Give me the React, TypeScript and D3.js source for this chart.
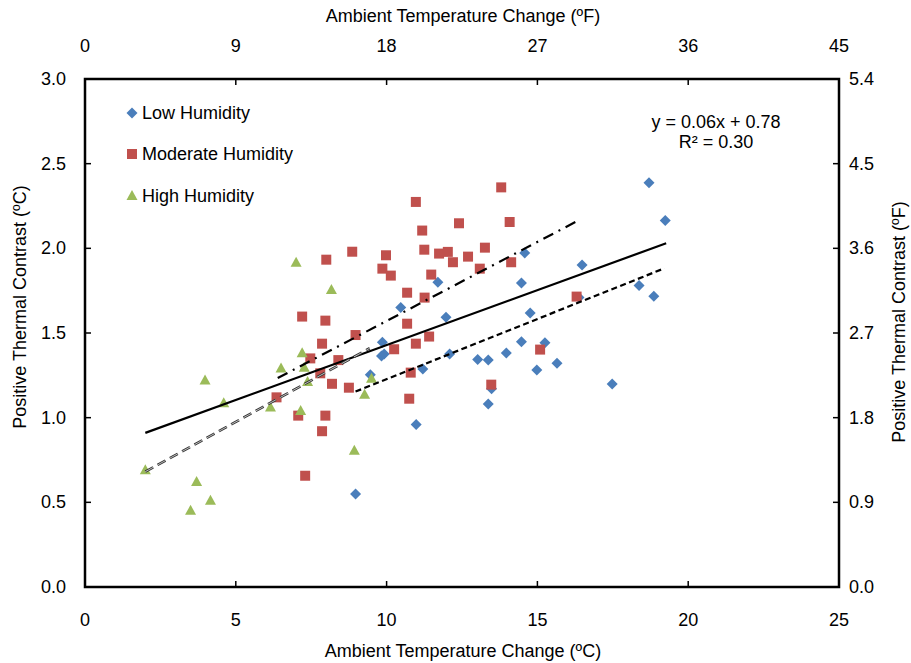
import React from "react";
import * as d3 from "d3";

// ---- Data (°C) ----
const lowHumidity: [number, number][] = [
  [18.7, 2.388], [19.24, 2.164], [14.58, 1.973], [16.48, 1.902], [11.7, 1.8],
  [14.47, 1.796], [18.37, 1.78], [18.86, 1.717], [10.47, 1.65], [14.76, 1.618],
  [11.97, 1.593], [9.86, 1.445], [14.47, 1.449], [15.25, 1.443], [9.83, 1.364],
  [9.92, 1.376], [12.09, 1.376], [13.97, 1.382], [13.02, 1.343], [13.37, 1.341],
  [15.65, 1.321], [14.98, 1.282], [11.2, 1.288], [9.46, 1.254], [17.48, 1.199],
  [13.48, 1.171], [13.37, 1.081], [10.98, 0.959], [8.97, 0.549], [16.38, 1.71],
];
const moderateHumidity: [number, number][] = [
  [8.0, 1.933], [8.86, 1.98], [7.2, 1.597], [7.97, 1.573], [7.86, 1.437],
  [8.97, 1.488], [7.47, 1.35], [8.4, 1.34], [7.8, 1.262], [8.19, 1.2],
  [8.75, 1.177], [6.35, 1.12], [7.07, 1.012], [7.97, 1.012], [7.86, 0.92],
  [7.3, 0.657], [13.8, 2.36], [10.97, 2.274], [12.4, 2.148], [14.08, 2.156],
  [11.18, 2.105], [9.98, 1.959], [11.25, 1.992], [11.74, 1.969], [12.03, 1.979],
  [12.2, 1.918], [12.7, 1.951], [13.26, 2.004], [9.86, 1.88], [10.14, 1.839],
  [11.48, 1.845], [13.09, 1.88], [14.13, 1.918], [10.68, 1.738], [11.26, 1.709],
  [10.68, 1.555], [11.41, 1.479], [10.97, 1.437], [10.25, 1.404], [16.3, 1.715],
  [15.09, 1.402], [10.8, 1.266], [13.47, 1.195], [10.75, 1.112],
];
const highHumidity: [number, number][] = [
  [2.0, 0.69], [3.98, 1.22], [4.6, 1.085], [3.7, 0.62], [4.16, 0.51],
  [3.5, 0.45], [6.15, 1.06], [6.5, 1.29], [7.2, 1.38], [7.27, 1.295],
  [7.38, 1.21], [7.15, 1.04], [8.93, 0.805], [9.27, 1.136], [9.5, 1.23],
  [7.0, 1.915], [8.17, 1.754],
];

const overallTrend: [number, number][] = [[2.0, 0.91], [19.27, 2.03]];
const lowTrend: [number, number][] = [[8.97, 1.154], [19.21, 1.882]];
const moderateTrend: [number, number][] = [[6.39, 1.234], [16.33, 2.162]];
const highTrend: [number, number][] = [[2.0, 0.681], [9.44, 1.41]];

const xTicksC = [0, 5, 10, 15, 20, 25];
const xTicksF = [0, 9, 18, 27, 36, 45];
const yTicksC = [0, 0.5, 1.0, 1.5, 2.0, 2.5, 3.0];
const yTicksF = [0, 0.9, 1.8, 2.7, 3.6, 4.5, 5.4];

const legendLabels = ["Low Humidity", "Moderate Humidity", "High Humidity"];
const equationText = ["y = 0.06x + 0.78", "R\u00B2 = 0.30"];

const BLUE = "#4A7EBB";
const RED = "#C0504D";
const GREEN = "#9BBB59";
const FONT = "'Liberation Sans', Arial, sans-serif";

const W = 911, H = 663;
const L = 85, R = 839, T = 79, B = 587;

const x = d3.scaleLinear().domain([0, 25]).range([L, R]);
const xF = d3.scaleLinear().domain([0, 45]).range([L, R]);
const y = d3.scaleLinear().domain([0, 3]).range([B, T]);
const yF = d3.scaleLinear().domain([0, 5.4]).range([B, T]);

const line = d3.line<[number, number]>().x((d) => x(d[0])).y((d) => y(d[1]));

const diamond = (cx: number, cy: number, r = 5.5) =>
  `M${cx},${cy - r}L${cx + r},${cy}L${cx},${cy + r}L${cx - r},${cy}Z`;
const square = (cx: number, cy: number, s = 10) =>
  `M${cx - s / 2},${cy - s / 2}h${s}v${s}h${-s}Z`;
const triangle = (cx: number, cy: number, w = 11, h = 10) =>
  `M${cx},${cy - h / 2 - 1}L${cx + w / 2},${cy + h / 2 - 1}L${cx - w / 2},${cy + h / 2 - 1}Z`;

export default function App() {
  return (
    <svg
      width={W}
      height={H}
      style={{ position: "absolute", left: 0, top: 0, background: "#fff" }}
      fontFamily={FONT}
    >
      <rect x={0} y={0} width={W} height={H} fill="#fff" />

      {/* markers */}
      {lowHumidity.map((d, i) => (
        <path key={"l" + i} d={diamond(x(d[0]), y(d[1]))} fill={BLUE} />
      ))}
      {moderateHumidity.map((d, i) => (
        <path key={"m" + i} d={square(x(d[0]), y(d[1]))} fill={RED} />
      ))}
      {highHumidity.map((d, i) => (
        <path key={"h" + i} d={triangle(x(d[0]), y(d[1]))} fill={GREEN} />
      ))}

      {/* trend lines */}
      <path d={line(overallTrend) || ""} stroke="#000" strokeWidth={2.2} fill="none" />
      <path d={line(lowTrend) || ""} stroke="#000" strokeWidth={2.2} strokeDasharray="6 3.5" fill="none" />
      <path d={line(moderateTrend) || ""} stroke="#000" strokeWidth={2.2} strokeDasharray="11 6 2 6" fill="none" />
      <path d={line(highTrend) || ""} stroke="#333" strokeWidth={2.6} strokeDasharray="9 5" fill="none" />
      <path d={line(highTrend) || ""} stroke="#ccc" strokeWidth={0.9} strokeDasharray="9 5" fill="none" />

      {/* frame */}
      <rect x={L} y={T} width={R - L} height={B - T} fill="none" stroke="#000" strokeWidth={2.5} />

      {/* bottom / top ticks */}
      {xTicksC.slice(1, -1).map((t) => (
        <line key={"bt" + t} x1={x(t)} x2={x(t)} y1={B} y2={B - 6} stroke="#000" strokeWidth={1.5} />
      ))}
      {xTicksF.slice(1, -1).map((t) => (
        <line key={"tt" + t} x1={xF(t)} x2={xF(t)} y1={T} y2={T + 6} stroke="#000" strokeWidth={1.5} />
      ))}
      {yTicksC.slice(1, -1).map((t) => (
        <line key={"lt" + t} x1={L} x2={L + 6} y1={y(t)} y2={y(t)} stroke="#000" strokeWidth={1.5} />
      ))}
      {yTicksF.slice(1, -1).map((t) => (
        <line key={"rt" + t} x1={R} x2={R - 6} y1={yF(t)} y2={yF(t)} stroke="#000" strokeWidth={1.5} />
      ))}

      {/* tick labels */}
      <g fontSize={18} fill="#000">
        {xTicksC.map((t) => (
          <text key={"bl" + t} x={x(t)} y={620} textAnchor="middle" dominantBaseline="central">
            {t}
          </text>
        ))}
        {xTicksF.map((t) => (
          <text key={"tl" + t} x={xF(t)} y={46} textAnchor="middle" dominantBaseline="central">
            {t}
          </text>
        ))}
        {yTicksC.map((t) => (
          <text key={"ll" + t} x={66} y={y(t)} textAnchor="end" dominantBaseline="central">
            {t.toFixed(1)}
          </text>
        ))}
        {yTicksF.map((t) => (
          <text key={"rl" + t} x={849} y={yF(t)} textAnchor="start" dominantBaseline="central">
            {t.toFixed(1)}
          </text>
        ))}
      </g>

      {/* axis titles */}
      <g fontSize={18} fill="#000">
        <text x={463} y={651} textAnchor="middle" dominantBaseline="central">
          Ambient Temperature Change (ºC)
        </text>
        <text x={463} y={16} textAnchor="middle" dominantBaseline="central">
          Ambient Temperature Change (ºF)
        </text>
        <text transform={`translate(20,307) rotate(-90)`} textAnchor="middle" dominantBaseline="central">
          Positive Thermal Contrast (ºC)
        </text>
        <text transform={`translate(899,322) rotate(-90)`} textAnchor="middle" dominantBaseline="central">
          Positive Thermal Contrast (ºF)
        </text>
      </g>

      {/* legend */}
      <g fontSize={18} fill="#000">
        <path d={diamond(132, 113)} fill={BLUE} />
        <text x={142} y={113} dominantBaseline="central">{legendLabels[0]}</text>
        <path d={square(132, 154)} fill={RED} />
        <text x={142} y={154} dominantBaseline="central">{legendLabels[1]}</text>
        <path d={triangle(132, 196)} fill={GREEN} />
        <text x={142} y={196} dominantBaseline="central">{legendLabels[2]}</text>
      </g>

      {/* equation */}
      <g fontSize={18} fill="#000">
        <text x={716} y={122} textAnchor="middle" dominantBaseline="central">{equationText[0]}</text>
        <text x={716} y={142} textAnchor="middle" dominantBaseline="central">{equationText[1]}</text>
      </g>
    </svg>
  );
}
